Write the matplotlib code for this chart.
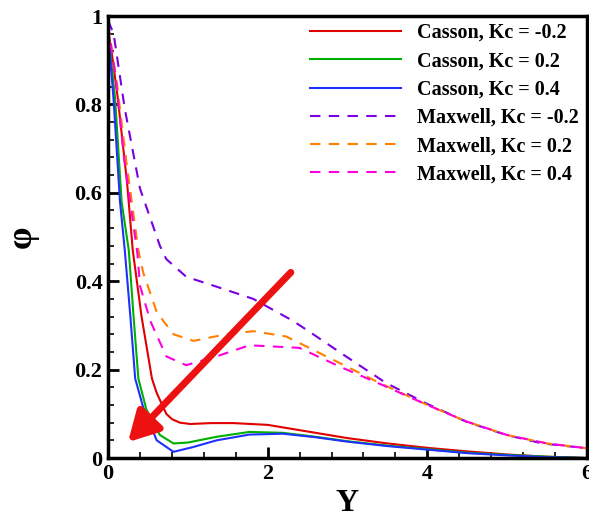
import matplotlib
matplotlib.use("Agg")
import matplotlib.pyplot as plt
from matplotlib.ticker import MultipleLocator

# ---- data ----
casson_m02_x = [0, 0.06, 0.125, 0.24, 0.31, 0.42, 0.55, 0.61, 0.73, 0.8, 0.9, 1.03, 1.3, 1.57, 2.0, 2.4, 3.0, 3.5, 4.0, 4.5, 5.0, 5.5, 6.0]
casson_m02_y = [0.97, 0.9, 0.81, 0.62, 0.47, 0.32, 0.18, 0.147, 0.10, 0.088, 0.080, 0.077, 0.079, 0.079, 0.075, 0.063, 0.045, 0.033, 0.023, 0.015, 0.008, 0.003, 0.0]

casson_02_x = [0, 0.09, 0.17, 0.26, 0.32, 0.38, 0.48, 0.65, 0.82, 1.0, 1.36, 1.77, 2.19, 2.6, 3.0, 3.5, 4.0, 4.5, 5.0, 5.5, 6.0]
casson_02_y = [0.97, 0.81, 0.58, 0.47, 0.32, 0.18, 0.11, 0.052, 0.033, 0.035, 0.048, 0.059, 0.057, 0.048, 0.038, 0.028, 0.02, 0.012, 0.007, 0.003, 0.0]

casson_04_x = [0, 0.07, 0.15, 0.21, 0.28, 0.34, 0.44, 0.61, 0.82, 1.07, 1.36, 1.77, 2.19, 2.6, 3.0, 3.5, 4.0, 4.5, 5.0, 5.5, 6.0]
casson_04_y = [0.97, 0.81, 0.58, 0.47, 0.32, 0.18, 0.115, 0.04, 0.014, 0.025, 0.04, 0.053, 0.055, 0.047, 0.037, 0.027, 0.019, 0.011, 0.006, 0.002, 0.0]

maxwell_m02_x = [0, 0.07, 0.21, 0.4, 0.65, 0.73, 0.98, 1.32, 1.82, 2.32, 2.57, 2.98, 3.48, 3.98, 4.49, 4.99, 5.44, 6.0]
maxwell_m02_y = [0.99, 0.96, 0.79, 0.61, 0.48, 0.45, 0.41, 0.39, 0.36, 0.31, 0.28, 0.23, 0.17, 0.124, 0.082, 0.052, 0.033, 0.022]

maxwell_02_x = [0, 0.11, 0.23, 0.38, 0.44, 0.61, 0.82, 1.07, 1.48, 1.82, 2.23, 2.4, 2.9, 3.4, 4.0, 4.5, 5.0, 5.5, 6.0]
maxwell_02_y = [0.98, 0.85, 0.67, 0.47, 0.42, 0.33, 0.28, 0.265, 0.28, 0.287, 0.275, 0.26, 0.215, 0.17, 0.12, 0.082, 0.052, 0.033, 0.022]

maxwell_04_x = [0, 0.09, 0.2, 0.37, 0.4, 0.53, 0.73, 0.98, 1.36, 1.77, 2.32, 2.4, 2.9, 3.44, 4.0, 4.5, 5.0, 5.5, 6.0]
maxwell_04_y = [0.98, 0.87, 0.68, 0.46, 0.39, 0.31, 0.23, 0.21, 0.23, 0.255, 0.25, 0.249, 0.207, 0.165, 0.12, 0.082, 0.052, 0.033, 0.022]

labels = ["Casson, Kc = -0.2", "Casson, Kc = 0.2", "Casson, Kc = 0.4",
          "Maxwell, Kc = -0.2", "Maxwell, Kc = 0.2", "Maxwell, Kc = 0.4"]
x_ticks = [0, 2, 4, 6]
y_ticks = [0, 0.2, 0.4, 0.6, 0.8, 1]
y_tick_labels = ['0', '0.2', '0.4', '0.6', '0.8', '1']
arrow_start = (2.29, 0.42)
arrow_end = (0.25, 0.036)

# ---- plot ----
plt.rcParams['font.family'] = ['Liberation Serif', 'DejaVu Serif']
plt.rcParams['font.weight'] = 'bold'

fig = plt.figure(figsize=(5.89, 5.20), dpi=100)
ax = fig.add_axes([0.1834, 0.1192, 0.8132, 0.85])

series = [
    (casson_m02_x, casson_m02_y, '#e00000', '-'),
    (casson_02_x, casson_02_y, '#00b000', '-'),
    (casson_04_x, casson_04_y, '#2030ff', '-'),
    (maxwell_m02_x, maxwell_m02_y, '#7a00e0', (0, (5, 4))),
    (maxwell_02_x, maxwell_02_y, '#ff8000', (0, (5, 4))),
    (maxwell_04_x, maxwell_04_y, '#ff00dd', (0, (5, 4))),
]
for (xs, ys, c, ls), lab in zip(series, labels):
    ax.plot(xs, ys, color=c, linestyle=ls, lw=1.5, label=lab)

ax.annotate('', xy=arrow_end, xytext=arrow_start,
            arrowprops=dict(arrowstyle='-|>,head_length=1.0,head_width=0.55',
                            color='#ee1111', lw=5, mutation_scale=18,
                            shrinkA=0, shrinkB=0))

ax.set_xlim(0, 6)
ax.set_ylim(0, 1)
ax.xaxis.set_minor_locator(MultipleLocator(0.4))
ax.yaxis.set_minor_locator(MultipleLocator(0.04))
ax.set_xticks(x_ticks)
ax.set_xticklabels([str(v) for v in x_ticks])
ax.set_yticks(y_ticks)
ax.set_yticklabels(y_tick_labels)
ax.tick_params(which='major', direction='in', length=8, width=2, labelsize=16, pad=4)
ax.tick_params(which='minor', direction='in', length=4, width=1.2)
for lab in ax.get_xticklabels() + ax.get_yticklabels():
    lab.set_fontweight('bold')
for sp in ax.spines.values():
    sp.set_linewidth(2.5)

ax.set_xlabel('Y', fontsize=23, fontweight='bold', labelpad=4)
ax.set_ylabel('φ', fontsize=26, fontweight='bold', rotation=90)
ax.yaxis.set_label_coords(-0.145, 0.5)

leg = ax.legend(loc='upper right', bbox_to_anchor=(1.02, 1.025), frameon=False,
                handlelength=4.5, labelspacing=0.41, borderaxespad=0.5,
                handletextpad=0.8, prop={'weight': 'bold', 'size': 14.5})

fig.savefig('out.png', dpi=100)
